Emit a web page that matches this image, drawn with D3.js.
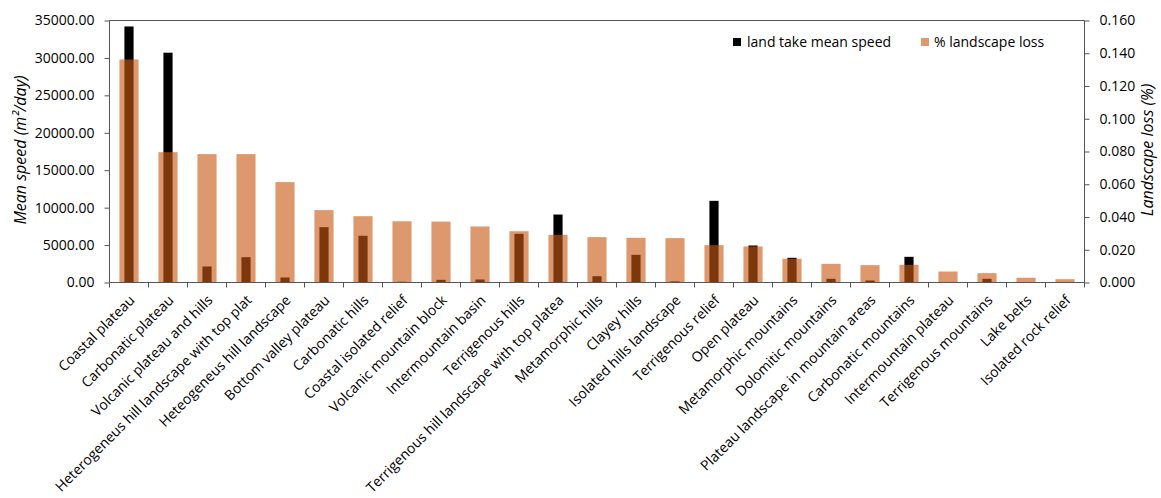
<!DOCTYPE html>
<html><head><meta charset="utf-8">
<script src="https://cdn.jsdelivr.net/npm/d3@7"></script>
<style>
body{margin:0;background:#fff;}
text{font-family:"Open Sans",sans-serif;fill:#000;}
</style></head>
<body><svg id="c" width="1161" height="498"></svg>
<script>
const categories = ["Coastal plateau","Carbonatic plateau","Volcanic plateau and hills","Heterogeneus hill landscape with top plat","Heteogeneus hill landscape","Bottom valley plateau","Carbonatic hills","Coastal isolated relief","Volcanic mountain block","Intermountain basin","Terrigenous hills","Terrigenous hill landscape with top platea","Metamorphic hills","Clayey hills","Isolated hills landscape","Terrigenous relief","Open plateau","Metamorphic mountains","Dolomitic mountains","Plateau landscape in mountain areas","Carbonatic mountains","Intermountain plateau","Terrigenous mountains","Lake belts","Isolated rock relief"];
const speedValues = [34200,30700,2140,3380,670,7390,6240,100,360,400,6500,9080,840,3700,150,10910,4940,3300,490,270,3430,60,490,30,20];
const lossValues = [0.1362,0.0796,0.0784,0.0784,0.0613,0.0442,0.0405,0.0374,0.0372,0.0342,0.0313,0.0291,0.0277,0.0273,0.0271,0.0228,0.0220,0.0145,0.0114,0.0106,0.0108,0.0067,0.0057,0.0029,0.0020];
const leftTicks = [0,5000,10000,15000,20000,25000,30000,35000];
const rightTicks = [0,0.02,0.04,0.06,0.08,0.10,0.12,0.14,0.16];
const seriesNames = ["land take mean speed","% landscape loss"];
const yTitleLeft = "Mean speed (m\u00B2/day)";
const yTitleRight = "Landscape loss (%)";

const svg = d3.select("#c");
const L = 109.5, R = 1084.5, T = 20.5, B = 282.5;
const x = d3.scaleBand().domain(categories).range([L, R]).padding(0);
const yL = d3.scaleLinear().domain([0,35000]).range([B, T]);
const yR = d3.scaleLinear().domain([0,0.16]).range([B, T]);
const axisColor = "#555";
const orange = "rgb(200,88,20)";

// black bars
const bw = x.bandwidth()*0.235;
svg.append("g").selectAll("rect").data(categories).join("rect")
  .attr("x", d => x(d) + x.bandwidth()/2 - bw/2)
  .attr("width", bw)
  .attr("y", (d,i) => yL(speedValues[i]))
  .attr("height", (d,i) => B - yL(speedValues[i]))
  .attr("fill", "#000");

// orange bars
const ow = x.bandwidth()*0.49;
svg.append("g").selectAll("rect").data(categories).join("rect")
  .attr("x", d => x(d) + x.bandwidth()/2 - ow/2)
  .attr("width", ow)
  .attr("y", (d,i) => yR(lossValues[i]))
  .attr("height", (d,i) => B - yR(lossValues[i]))
  .attr("fill", orange)
  .attr("fill-opacity", 0.62);

// frame top
svg.append("line").attr("x1", L).attr("x2", R).attr("y1", T).attr("y2", T).attr("stroke", axisColor);

// axes
const gl = svg.append("g").attr("transform", `translate(${L},0)`)
  .call(d3.axisLeft(yL).tickValues(leftTicks).tickSize(5).tickPadding(10).tickFormat(d3.format(".2f")));
const gr = svg.append("g").attr("transform", `translate(${R},0)`)
  .call(d3.axisRight(yR).tickValues(rightTicks).tickSize(5).tickPadding(10).tickFormat(d3.format(".3f")));
const xTickPos = categories.map(c => x(c)).concat([R]);
const gb = svg.append("g").attr("transform", `translate(0,${B})`)
  .call(d3.axisBottom(x).tickSize(0).tickFormat(d => d));
gb.selectAll(".tick text")
  .attr("text-anchor","end")
  .attr("transform","translate(1,13) rotate(-45)")
  .attr("dy","0.35em").attr("dx","0");
gb.append("g").selectAll("line").data(xTickPos).join("line")
  .attr("x1", d => d).attr("x2", d => d).attr("y1", 0).attr("y2", 5).attr("stroke", axisColor);

[gl, gr, gb].forEach(g => {
  g.selectAll(".domain").attr("stroke", axisColor);
  g.selectAll(".tick line").attr("stroke", axisColor);
  g.selectAll(".tick text").attr("font-size", 14).attr("font-family", "Open Sans").attr("fill","#000");
});
gl.select(".domain").attr("d", `M0,${T}V${B}`);
gr.select(".domain").attr("d", `M0,${T}V${B}`);
gb.select(".domain").attr("d", `M${L},0H${R}`);

// axis titles
svg.append("text").attr("transform", "translate(26,150) rotate(-90)")
  .attr("text-anchor","middle").attr("font-size",16).attr("font-style","italic").text(yTitleLeft);
svg.append("text").attr("transform", "translate(1153,150) rotate(-90)")
  .attr("text-anchor","middle").attr("font-size",16).attr("font-style","italic").text(yTitleRight);

// legend
const leg = svg.append("g");
leg.append("rect").attr("x",733).attr("y",38).attr("width",8).attr("height",8).attr("fill","#000");
leg.append("text").attr("x",747).attr("y",46.5).attr("font-size",14).text(seriesNames[0]);
leg.append("rect").attr("x",921).attr("y",38).attr("width",8).attr("height",8)
  .attr("fill",orange).attr("fill-opacity",0.62);
leg.append("text").attr("x",934).attr("y",46.5).attr("font-size",14).text(seriesNames[1]);
</script></body></html>
